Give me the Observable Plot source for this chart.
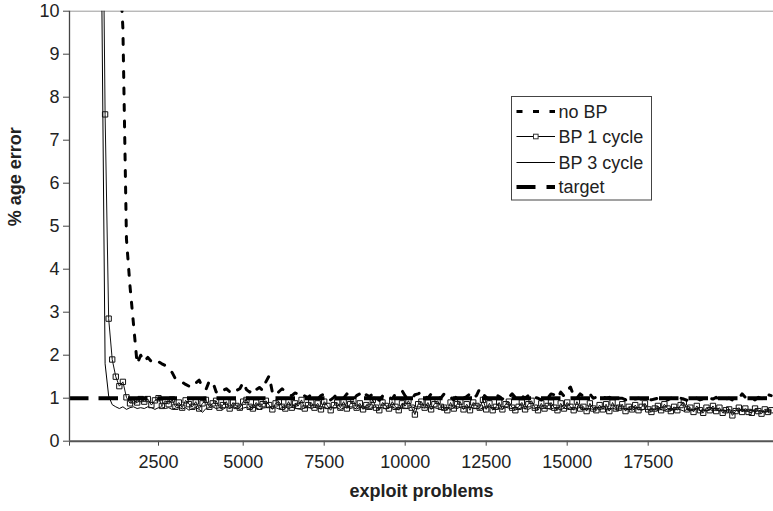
<!DOCTYPE html>
<html><head><meta charset="utf-8">
<script src="https://cdn.jsdelivr.net/npm/d3@7"></script>
<script src="https://cdn.jsdelivr.net/npm/@observablehq/plot@0.6"></script>
<style>
body{margin:0;background:#fff;}
#wrap{position:relative;width:773px;height:511px;font-family:"Liberation Sans",Arial,Helvetica,sans-serif;}
</style></head><body><div id="wrap"></div>
<script>
// categories: exploit problems (every 100)
const problems = d3.range(100, 21400, 100);

const noBP = [
60, 55, 50, 45, 40, 35, 30, 26, 22, 19,
16.5, 14.5, 12.5, 11.2, 9.6, 4.7, 3.6, 2.7, 1.8, 2.0,
1.85, 1.95, 1.85, 1.9, 1.85, 1.8, 1.76, 1.65, 1.6, 1.45,
1.4, 1.37, 1.32, 1.28, 1.25, 1.35, 1.42, 1.25, 1.2, 1.4,
1.38, 1.15, 1.1, 1.18, 1.22, 1.15, 1.1, 1.18, 1.22, 1.37,
1.2, 1.14, 1.26, 1.2, 1.25, 1.18, 1.38, 1.52, 1.14, 1.06, 1.15,
1.22, 1.15, 1.08, 1.06, 1.12, 1.1, 1.14, 1.05, 1.02, 1.08, 1.06,
0.98, 1.06, 1.1, 1.04, 0.96, 1.02, 1.1, 1.05, 1.0, 1.1, 1.03,
0.97, 1.06, 1.1, 1.0, 1.08, 1.04, 1.1, 1.0, 0.95, 1.05, 1.1,
1.02, 0.98, 1.1, 1.14, 1.18, 1.05, 1.0, 0.98, 1.08, 1.1, 1.15,
1.05, 1.0, 1.1, 1.06, 1.04, 1.0, 1.1, 1.12, 1.02, 0.96, 1.06,
1.08, 1.0, 1.04, 1.1, 1.0, 1.06, 1.22, 1.1, 1.02, 0.98, 1.0,
1.08, 1.04, 0.98, 1.06, 1.02, 1.1, 1.02, 0.98, 1.05, 1.0, 1.06,
1.1, 1.02, 1.0, 0.96, 1.05, 1.0, 1.1, 1.08, 1.0, 1.14, 1.05,
1.18, 1.26, 1.05, 1.0, 1.1, 1.04, 1.06, 1.1, 1.0, 1.02, 1.06,
1.04, 1.0, 1.02, 0.98, 1.02, 1.0, 1.0, 0.96, 1.0, 1.02, 0.98,
1.0, 0.97, 1.0, 0.98, 0.96, 0.98, 1.0, 0.98, 1.02, 0.96, 1.0,
0.98, 0.96, 1.0, 0.98, 0.95, 1.0, 0.98, 1.0, 0.96, 0.98, 0.96,
1.0, 0.98, 1.02, 0.96, 0.98, 0.98, 1.0, 0.96, 0.98, 1.0, 1.1,
1.02, 0.98, 1.0, 0.96, 1.02, 1.0, 1.04, 1.08, 1.06
];

const bp1 = [
70, 60, 52, 45, 38, 32, 26, 21, 16, 7.6,
2.85, 1.9, 1.5, 1.28, 1.38, 1.02, 0.88, 0.95, 0.9, 0.98,
0.92, 0.98, 0.84, 0.95, 1.0, 0.82, 0.94, 0.86, 0.97, 0.8,
0.9, 0.78, 0.95, 0.86, 0.8, 0.92, 0.76, 0.88, 0.96, 0.8,
0.88, 0.94, 0.78, 0.84, 0.92, 0.76, 0.9, 0.82, 0.78, 0.92,
0.96, 0.8, 0.76, 0.9, 0.8, 0.86, 0.94, 0.84, 0.74, 0.88, 0.92,
0.8, 0.76, 0.92, 0.78, 0.88, 0.82, 0.96, 0.76, 0.84, 0.9, 0.78,
0.88, 0.74, 0.92, 0.82, 0.72, 0.84, 0.9, 0.78, 0.92, 0.76, 0.86,
0.94, 0.78, 0.88, 0.74, 0.84, 0.8, 0.96, 0.78, 0.72, 0.9, 0.82,
0.76, 0.92, 0.8, 0.72, 0.88, 0.82, 0.94, 0.78, 0.62, 0.86, 0.92,
0.78, 0.9, 0.74, 0.86, 0.94, 0.8, 0.78, 0.72, 0.9, 0.76, 0.86,
0.92, 0.74, 0.86, 0.72, 0.9, 0.82, 0.78, 0.96, 0.74, 0.88, 0.72,
0.8, 0.9, 0.74, 0.86, 0.92, 0.78, 0.72, 0.8, 0.9, 0.74, 0.86,
0.94, 0.78, 0.72, 0.88, 0.76, 0.82, 0.9, 0.78, 0.72, 0.88, 0.76,
0.9, 0.8, 0.72, 0.92, 0.76, 0.8, 0.7, 0.88, 0.76, 0.72, 0.84,
0.74, 0.86, 0.7, 0.9, 0.76, 0.78, 0.86, 0.7, 0.8, 0.74, 0.84,
0.72, 0.8, 0.88, 0.74, 0.68, 0.76, 0.82, 0.72, 0.86, 0.76, 0.7,
0.8, 0.72, 0.84, 0.9, 0.74, 0.78, 0.68, 0.82, 0.72, 0.66, 0.78,
0.72, 0.82, 0.7, 0.78, 0.66, 0.72, 0.74, 0.6, 0.7, 0.78, 0.68,
0.76, 0.68, 0.66, 0.76, 0.7, 0.64, 0.74, 0.68, 0.72
];

const bp3 = [
55, 48, 42, 36, 30, 25, 20, 15, 11, 1.8,
1.05, 0.85, 0.8, 0.76, 0.8, 0.74, 0.78, 0.8, 0.76, 0.78,
0.76, 0.8, 0.78, 0.74, 0.78, 0.8, 0.76, 0.78, 0.74, 0.77,
0.79, 0.75, 0.78, 0.72, 0.76, 0.78, 0.74, 0.67, 0.76, 0.78,
0.8, 0.76, 0.78, 0.74, 0.79, 0.76, 0.8, 0.78, 0.74, 0.77,
0.79, 0.76, 0.8, 0.77, 0.74, 0.77, 0.78, 0.8, 0.76, 0.78, 0.75,
0.78, 0.8, 0.76, 0.79, 0.77, 0.75, 0.74, 0.78, 0.8, 0.76, 0.79,
0.77, 0.75, 0.79, 0.76, 0.8, 0.77, 0.78, 0.74, 0.77, 0.8, 0.76,
0.78, 0.75, 0.79, 0.77, 0.74, 0.76, 0.78, 0.8, 0.76, 0.79, 0.75,
0.78, 0.8, 0.76, 0.74, 0.78, 0.77, 0.76, 0.8, 0.77, 0.75, 0.79,
0.77, 0.8, 0.75, 0.78, 0.76, 0.78, 0.8, 0.77, 0.74, 0.78, 0.76,
0.79, 0.75, 0.78, 0.8, 0.76, 0.77, 0.74, 0.78, 0.77, 0.8, 0.75,
0.78, 0.76, 0.74, 0.79, 0.77, 0.76, 0.8, 0.75, 0.78, 0.76, 0.74,
0.78, 0.76, 0.8, 0.75, 0.77, 0.76, 0.74, 0.78, 0.76, 0.73, 0.77,
0.75, 0.78, 0.74, 0.76, 0.79, 0.75, 0.73, 0.76, 0.74, 0.77, 0.73,
0.76, 0.74, 0.72, 0.77, 0.74, 0.75, 0.76, 0.73, 0.75, 0.72, 0.76,
0.74, 0.72, 0.75, 0.73, 0.76, 0.74, 0.72, 0.74, 0.71, 0.75, 0.73,
0.72, 0.75, 0.73, 0.7, 0.74, 0.73, 0.72, 0.75, 0.71, 0.73, 0.7,
0.74, 0.71, 0.73, 0.7, 0.72, 0.71, 0.74, 0.7, 0.72, 0.69, 0.73,
0.71, 0.7, 0.73, 0.69, 0.72, 0.7, 0.68, 0.71, 0.7
];

const targetValue = [1];
const seriesNames = ["no BP", "BP 1 cycle", "BP 3 cycle", "target"];
const xTicks = [0, 2500, 5000, 7500, 10000, 12500, 15000, 17500];
const xTickLabels = [2500, 5000, 7500, 10000, 12500, 15000, 17500];
const yTicks = [0, 1, 2, 3, 4, 5, 6, 7, 8, 9, 10];
const xTitle = "exploit problems";
const yTitle = "% age error";

// category positions along the axis (early categories sit a little wider apart)
const catPos = d3.scaleLinear().domain([0, 2500, 5000, 17500, 21370]).range([0, 89, 173.7, 578.7, 704]);

const rows = vals => problems.map((x, i) => ({x: catPos(x), y: vals[i]}));
const font = '"Liberation Sans", Arial, Helvetica, sans-serif';

const chart = Plot.plot({
  width: 773, height: 511,
  marginLeft: 69, marginRight: 0, marginTop: 10.7, marginBottom: 70.3,
  style: {fontFamily: font, fontSize: "18px", background: "#fff", color: "#222"},
  x: {domain: [0, 704]},
  y: {domain: [0, 10]},
  marks: [
    Plot.ruleY([10], {stroke: "#9a9a9a", strokeWidth: 1}),
    Plot.line(rows(bp3), {x: "x", y: "y", stroke: "#000", strokeWidth: 1, clip: true}),
    Plot.line(rows(bp1), {x: "x", y: "y", stroke: "#111", strokeWidth: 1, clip: true}),
    Plot.dot(rows(bp1), {x: "x", y: "y", symbol: "square", r: 3, stroke: "#111", fill: "none", strokeWidth: 1, clip: true}),
    Plot.line(rows(noBP), {x: "x", y: "y", stroke: "#000", strokeWidth: 3, strokeDasharray: "6,10.5", clip: true}),
    Plot.ruleY(targetValue, {stroke: "#000", strokeWidth: 4, strokeDasharray: "19.5,10"}),
    Plot.axisX({ticks: xTicks.map(catPos), tickSize: 5, tickFormat: () => "", stroke: "#444", label: null}),
    Plot.text(xTickLabels, {x: d => catPos(d), text: d => String(d), frameAnchor: "bottom", dy: 27, fontSize: 18, fill: "#222"}),
    Plot.axisY({ticks: yTicks, tickSize: 6, tickPadding: 4, fontSize: 18, stroke: "#444", label: null}),
    Plot.ruleX([0], {stroke: "#444", strokeWidth: 1.3}),
    Plot.ruleY([0], {stroke: "#555", strokeWidth: 2}),
    Plot.text([yTitle], {frameAnchor: "left", dx: -54, rotate: -90, fontWeight: "bold", fontSize: 18, fill: "#222"}),
    Plot.text([xTitle], {frameAnchor: "bottom", dy: 56, fontWeight: "bold", fontSize: 18, fill: "#222"})
  ]
});

const wrap = document.getElementById("wrap");
wrap.appendChild(chart);

// legend overlay
const leg = d3.select(wrap).append("svg")
  .style("position", "absolute").style("left", "511px").style("top", "96px")
  .attr("width", 142).attr("height", 106)
  .style("font-family", font).style("font-size", "18px");
leg.append("rect").attr("x", 0.5).attr("y", 0.5).attr("width", 140).attr("height", 103.5)
  .attr("fill", "#fff").attr("stroke", "#444").attr("stroke-width", 1);
const legendStyle = [
  {w: 3, dash: "6,10.5", marker: false},
  {w: 1, dash: null, marker: true},
  {w: 1, dash: null, marker: false},
  {w: 4, dash: "19,11", marker: false}
];
const rowY = [15.5, 40.5, 66.5, 91];
seriesNames.forEach((name, i) => {
  const s = legendStyle[i];
  const g = leg.append("g").attr("transform", `translate(0,${rowY[i]})`);
  const ln = g.append("line").attr("x1", 5.5).attr("x2", 44).attr("y1", 0).attr("y2", 0)
    .attr("stroke", "#000").attr("stroke-width", s.w);
  if (s.dash) ln.attr("stroke-dasharray", s.dash);
  if (s.marker) g.append("rect").attr("x", 22.5).attr("y", -2.3).attr("width", 4.6).attr("height", 4.6)
    .attr("fill", "#fff").attr("stroke", "#333");
  g.append("text").attr("x", 47.5).attr("y", 0).attr("dy", "0.35em").attr("fill", "#222").text(name);
});
</script></body></html>
